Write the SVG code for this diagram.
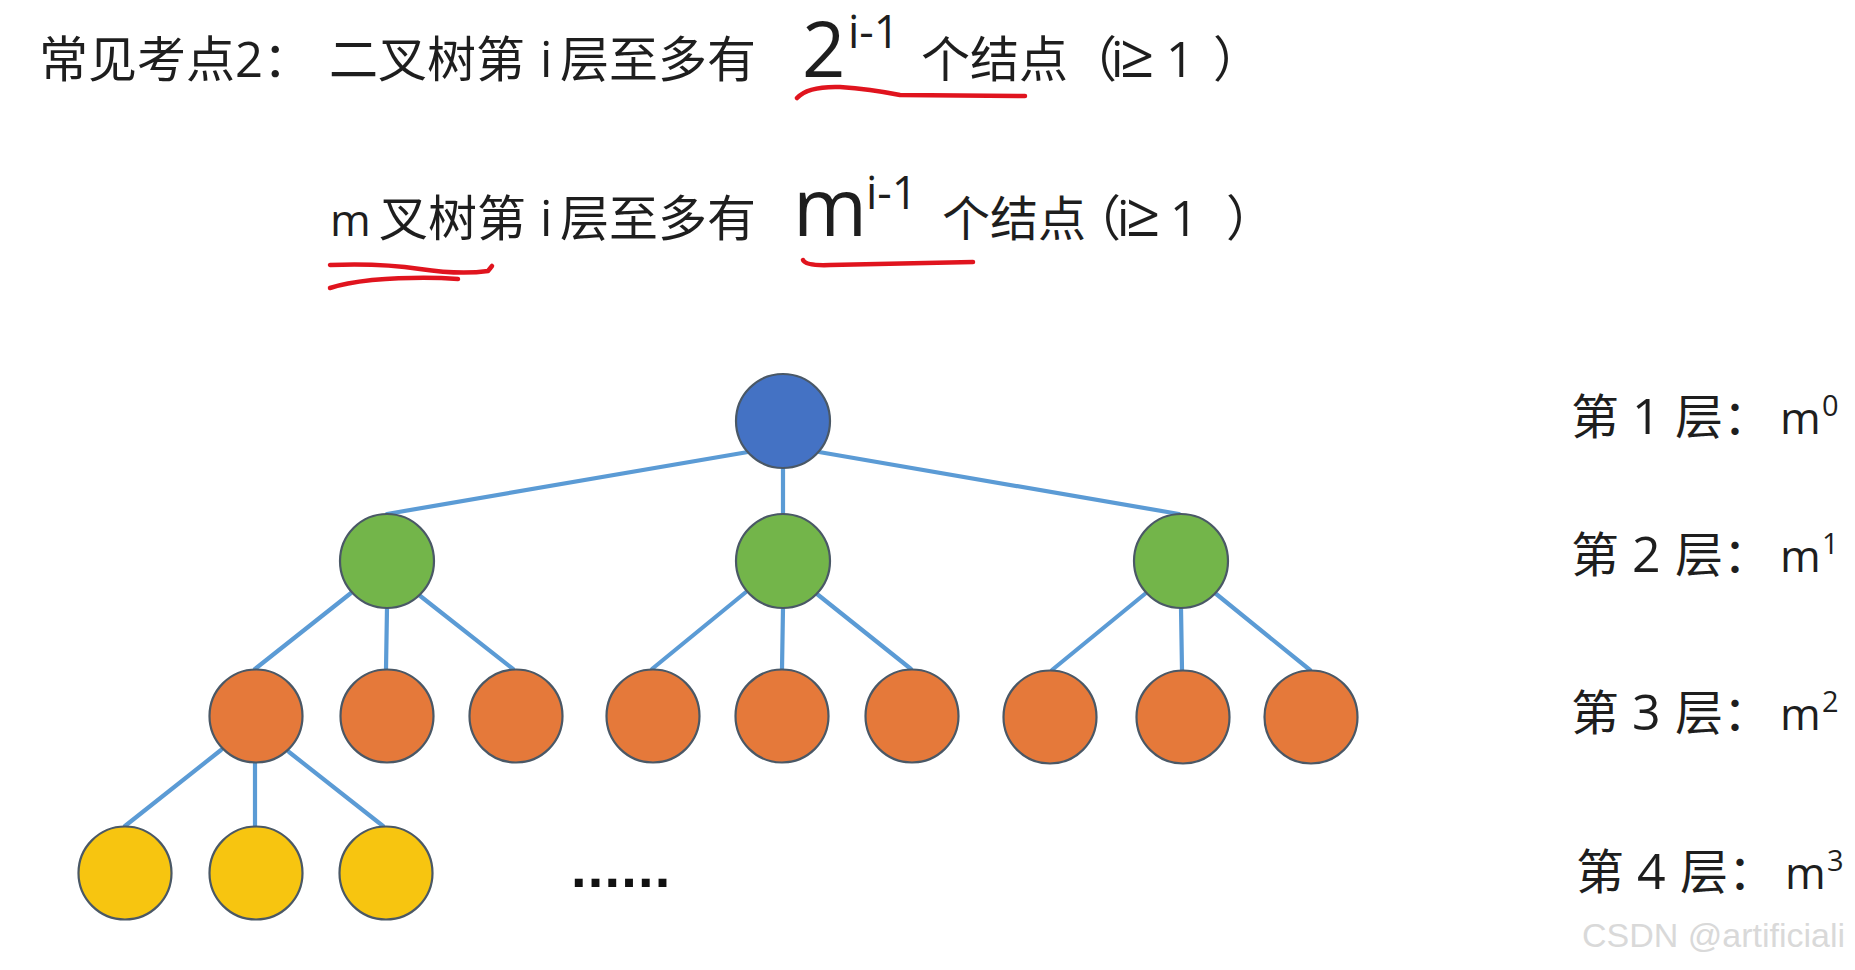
<svg xmlns="http://www.w3.org/2000/svg" width="1855" height="970" viewBox="0 0 1855 970">
<style>
.t{font-family:"Open Sans","Noto Sans CJK SC",sans-serif;fill:#1e1e1e}
.cn{font-size:49px}
.ge{font-size:60px}
.edge{stroke:#5B9BD5;stroke-width:4.2;stroke-linecap:round;fill:none}
.node{stroke:#4a5866;stroke-width:2.2}
.l1{fill:#4472C4}.l2{fill:#73B54A}.l3{fill:#E5793A}.l4{fill:#F7C510}
.red{stroke:#E0141E;stroke-width:4.5;stroke-linecap:round;stroke-linejoin:round;fill:none}
.lab{font-size:48px}
</style>
<rect width="1855" height="970" fill="#ffffff"/>

<g id="heading1">
<text class="t cn" y="77"><tspan x="39">常见考点2：</tspan><tspan x="329">二叉树第</tspan><tspan x="540">i</tspan><tspan x="560">层至多有</tspan></text>
<text class="t" x="802" y="77" font-size="76">2</text>
<text class="t" x="848" y="48" font-size="45">i-1</text>
<text class="t cn" y="77"><tspan x="921">个结点</tspan><tspan x="1068">（</tspan><tspan x="1111">i</tspan><tspan class="ge" x="1120">≥</tspan><tspan x="1166">1</tspan><tspan x="1213">）</tspan></text>
</g>
<g id="heading2">
<text class="t cn" y="236"><tspan x="330" font-size="44">m</tspan><tspan x="379">叉树第</tspan><tspan x="540">i</tspan><tspan x="560">层至多有</tspan></text>
<text class="t" x="793" y="236" font-size="80">m</text>
<text class="t" x="866" y="209" font-size="45">i-1</text>
<text class="t cn" y="236"><tspan x="942" font-size="48">个结点</tspan><tspan x="1072">（</tspan><tspan x="1117">i</tspan><tspan class="ge" x="1126">≥</tspan><tspan x="1170">1</tspan><tspan x="1226">）</tspan></text>
</g>

<g id="annotations">
<path class="red" d="M797,98 Q808,86 840,87 Q870,89 900,95 L1025,96"/>
<path class="red" d="M803,260 Q806,266 830,265 L973,262"/>
<path class="red" d="M330,265 Q380,263 420,269 Q460,275 488,271 L492,266"/>
<path class="red" d="M330,288 Q345,283 372,280 Q420,276 458,279"/>
</g>

<g id="connectors">
<line class="edge" x1="748" y1="452" x2="387" y2="514"/>
<line class="edge" x1="783" y1="468" x2="783" y2="514"/>
<line class="edge" x1="819" y1="452" x2="1179" y2="514"/>
<line class="edge" x1="351" y1="593" x2="255" y2="669"/>
<line class="edge" x1="387" y1="608" x2="386" y2="669"/>
<line class="edge" x1="419" y1="595" x2="513" y2="669"/>
<line class="edge" x1="746" y1="592" x2="652" y2="669"/>
<line class="edge" x1="783" y1="608" x2="782" y2="669"/>
<line class="edge" x1="817" y1="594" x2="911" y2="669"/>
<line class="edge" x1="1146" y1="593" x2="1052" y2="670"/>
<line class="edge" x1="1181" y1="608" x2="1182" y2="670"/>
<line class="edge" x1="1215" y1="593" x2="1310" y2="670"/>
<line class="edge" x1="221" y1="750" x2="125" y2="826"/>
<line class="edge" x1="255" y1="763" x2="255" y2="826"/>
<line class="edge" x1="289" y1="752" x2="383" y2="826"/>
</g>

<g id="n-root"><circle class="node l1" cx="783" cy="421" r="47"/></g>
<g id="n-g1"><circle class="node l2" cx="387" cy="561" r="47"/></g>
<g id="n-g2"><circle class="node l2" cx="783" cy="561" r="47"/></g>
<g id="n-g3"><circle class="node l2" cx="1181" cy="561" r="47"/></g>
<g id="n-o1"><circle class="node l3" cx="256" cy="716" r="46.5"/></g>
<g id="n-o2"><circle class="node l3" cx="387" cy="716" r="46.5"/></g>
<g id="n-o3"><circle class="node l3" cx="516" cy="716" r="46.5"/></g>
<g id="n-o4"><circle class="node l3" cx="653" cy="716" r="46.5"/></g>
<g id="n-o5"><circle class="node l3" cx="782" cy="716" r="46.5"/></g>
<g id="n-o6"><circle class="node l3" cx="912" cy="716" r="46.5"/></g>
<g id="n-o7"><circle class="node l3" cx="1050" cy="717" r="46.5"/></g>
<g id="n-o8"><circle class="node l3" cx="1183" cy="717" r="46.5"/></g>
<g id="n-o9"><circle class="node l3" cx="1311" cy="717" r="46.5"/></g>
<g id="n-y1"><circle class="node l4" cx="125" cy="873" r="46.5"/></g>
<g id="n-y2"><circle class="node l4" cx="256" cy="873" r="46.5"/></g>
<g id="n-y3"><circle class="node l4" cx="386" cy="873" r="46.5"/></g>

<g id="ellipsis">
<text x="571" y="887" font-family="Liberation Sans, sans-serif" font-weight="bold" font-size="56" letter-spacing="1.2" fill="#111">......</text>
</g>

<g id="level-labels">
<text class="t lab" y="434"><tspan x="1571">第</tspan><tspan x="1632" font-size="50">1</tspan><tspan x="1675">层：</tspan><tspan x="1780" font-size="44">m</tspan><tspan x="1822" y="416" font-size="29">0</tspan></text>
<text class="t lab" y="572"><tspan x="1571">第</tspan><tspan x="1632" font-size="50">2</tspan><tspan x="1675">层：</tspan><tspan x="1780" font-size="44">m</tspan><tspan x="1822" y="554" font-size="29">1</tspan></text>
<text class="t lab" y="730"><tspan x="1571">第</tspan><tspan x="1632" font-size="50">3</tspan><tspan x="1675">层：</tspan><tspan x="1780" font-size="44">m</tspan><tspan x="1822" y="712" font-size="29">2</tspan></text>
<text class="t lab" y="889"><tspan x="1576">第</tspan><tspan x="1637" font-size="50">4</tspan><tspan x="1680">层：</tspan><tspan x="1785" font-size="44">m</tspan><tspan x="1827" y="871" font-size="29">3</tspan></text>
</g>

<g id="watermark">
<text x="1582" y="947" font-family="Liberation Sans, Arial, sans-serif" font-size="34" fill="#d9d9d9">CSDN @artificiali</text>
</g>
</svg>
